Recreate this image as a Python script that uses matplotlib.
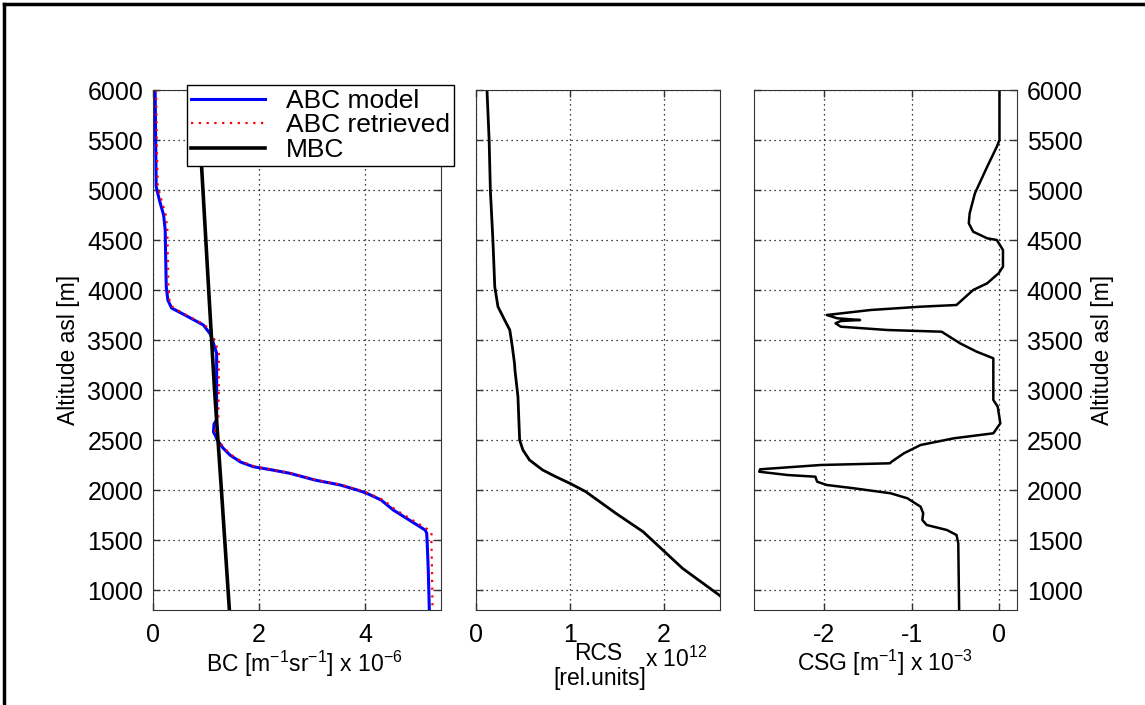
import numpy as np
import matplotlib
matplotlib.use("Agg")
import matplotlib.pyplot as plt
from matplotlib.lines import Line2D

plt.rcParams['font.family'] = ['Liberation Sans', 'DejaVu Sans']
plt.rcParams['mathtext.fontset'] = 'custom'
plt.rcParams['mathtext.rm'] = 'Liberation Sans'
plt.rcParams['axes.unicode_minus'] = False

# backscatter coefficient profile [x 1e-6 m^-1 sr^-1]
alt_bc = [6000, 5500, 5033, 4900, 4750, 4600, 4300, 4033, 3900, 3820, 3750, 3650,
          3560, 3450, 3367, 3000, 2700, 2660, 2580, 2540, 2500, 2420, 2350, 2280,
          2233, 2200, 2167, 2100, 2050, 2000, 1967, 1900, 1800, 1700, 1600, 1570,
          1467, 1200, 800]
bc_model = [0.04, 0.05, 0.06, 0.12, 0.20, 0.23, 0.24, 0.25, 0.28, 0.35, 0.60, 0.95,
            1.08, 1.15, 1.20, 1.20, 1.20, 1.15, 1.14, 1.18, 1.21, 1.32, 1.45, 1.65,
            1.89, 2.25, 2.58, 3.05, 3.53, 3.85, 4.03, 4.30, 4.53, 4.83, 5.13, 5.16,
            5.17, 5.19, 5.21]
bc_retr = [0.06, 0.07, 0.09, 0.16, 0.24, 0.27, 0.28, 0.29, 0.31, 0.38, 0.63, 0.98,
           1.12, 1.19, 1.24, 1.24, 1.23, 1.18, 1.17, 1.20, 1.23, 1.34, 1.48, 1.69,
           1.93, 2.29, 2.61, 3.08, 3.56, 3.89, 4.07, 4.34, 4.58, 4.89, 5.20, 5.25,
           5.25, 5.26, 5.27]

# molecular backscatter
alt_mbc = [6000, 5200, 4000, 3000, 2000, 800]
mbc = [0.83, 0.92, 1.05, 1.16, 1.29, 1.44]

# range corrected signal [x 1e12]
alt_rcs = [6000, 5500, 5000, 4500, 4033, 3833, 3700, 3600, 3433, 3267, 3200, 2933,
           2500, 2400, 2300, 2200, 2133, 2067, 1983, 1767, 1583, 1400, 1217, 950, 800]
rcs = [0.117, 0.14, 0.153, 0.18, 0.20, 0.234, 0.305, 0.36, 0.387, 0.41, 0.415, 0.447,
       0.465, 0.50, 0.57, 0.71, 0.85, 1.0, 1.17, 1.49, 1.78, 1.99, 2.2, 2.59, 2.78]

# range corrected signal gradient [x 1e-3 m^-1]
alt_csg = [6000, 5500, 5433, 5233, 4967, 4767, 4667, 4583, 4517, 4500, 4400, 4233,
           4167, 4067, 4000, 3850, 3833, 3800, 3750, 3717, 3700, 3690, 3667, 3633,
           3600, 3583, 3467, 3383, 3317, 2900, 2833, 2667, 2567, 2517, 2450, 2367,
           2283, 2267, 2250, 2207, 2183, 2150, 2133, 2083, 2050, 2017, 1967, 1917,
           1833, 1767, 1700, 1650, 1600, 1550, 1467, 800]
csg = [0.0, 0.0, -0.03, -0.14, -0.28, -0.34, -0.35, -0.30, -0.14, -0.03, 0.04, 0.04,
       -0.01, -0.14, -0.30, -0.49, -0.90, -1.47, -1.97, -1.85, -1.59, -1.81, -1.87, -1.81,
       -1.28, -0.66, -0.45, -0.26, -0.07, -0.07, -0.02, 0.01, -0.07, -0.52, -0.90, -1.09,
       -1.23, -1.25, -2.04, -2.73, -2.74, -2.42, -2.10, -2.08, -1.97, -1.66, -1.24, -1.05,
       -0.90, -0.87, -0.88, -0.83, -0.60, -0.49, -0.47, -0.46]

W, H = 1145, 705
fig = plt.figure(figsize=(W / 100, H / 100), dpi=100)


def box(l, r, t, b):
    return [l / W, (H - b) / H, (r - l) / W, (b - t) / H]


ax1 = fig.add_axes(box(153, 441, 90, 610))
ax2 = fig.add_axes(box(476, 720, 90, 610))
ax3 = fig.add_axes(box(754, 1017, 90, 610))

ax1.plot(bc_model, alt_bc, color='#0000ff', lw=2.2, label='ABC model')
ax1.plot(bc_retr, alt_bc, color='#ff0000', lw=1.6, ls=(0, (1, 2.5)), label='ABC retrieved')
ax1.plot(mbc, alt_mbc, color='black', lw=2.6, label='MBC')
ax2.plot(rcs, alt_rcs, color='black', lw=2)
ax3.plot(csg, alt_csg, color='black', lw=1.8)

ax1.set_xlim(0, 5.43)
ax2.set_xlim(0, 2.6)
ax3.set_xlim(-2.8, 0.2)
ax1.set_xticks([0, 2, 4])
ax2.set_xticks([0, 1, 2])
ax3.set_xticks([-2, -1, 0])

for ax in (ax1, ax2, ax3):
    ax.set_ylim(800, 6000)
    ax.set_yticks(np.arange(1000, 6001, 500))
    ax.grid(True, color='black', ls=(0, (1, 3)), lw=0.9)
    ax.tick_params(direction='in', length=5, width=1, top=True, right=True,
                   labelsize=18, color='#333333')
    ax.tick_params(axis='x', pad=9)
    for s in ax.spines.values():
        s.set_color('#333333')

ax1.tick_params(axis='y', pad=7)
ax2.tick_params(axis='y', labelleft=False)
ax3.tick_params(axis='y', labelleft=False, labelright=True, pad=7)

fig.text(68 / W, 1 - 350 / H, 'Altitude asl [m]', rotation=90, fontsize=16.5,
         ha='center', va='center')
fig.text(1102 / W, 1 - 350 / H, 'Altitude asl [m]', rotation=90, fontsize=16.5,
         ha='center', va='center')

fig.text(304 / W, 1 - 664 / H, r'BC [m$^{-1}$sr$^{-1}$] x 10$^{-6}$', fontsize=16.5,
         ha='center', va='center')
fig.text(598 / W, 1 - 654 / H, 'RCS', fontsize=16.5, ha='center', va='center')
fig.text(600 / W, 1 - 678 / H, '[rel.units]', fontsize=16.5, ha='center', va='center')
fig.text(645 / W, 1 - 659 / H, r'x 10$^{12}$', fontsize=16.5, ha='left', va='center')
fig.text(885 / W, 1 - 663 / H, r'CSG [m$^{-1}$] x 10$^{-3}$', fontsize=16.5,
         ha='center', va='center')

leg = fig.legend(loc='upper left', bbox_to_anchor=(187 / W, 1 - 85 / H),
                 fontsize=19, fancybox=False, framealpha=1, edgecolor='black',
                 borderaxespad=0, handlelength=2.8, handletextpad=0.8,
                 labelspacing=0.02, borderpad=0.15)
leg.get_frame().set_linewidth(1)

# outer frame (top and left edges only)
fig.add_artist(Line2D([4 / W, 4 / W], [0, 1 - 4 / H], color='black', lw=2.5,
                      transform=fig.transFigure))
fig.add_artist(Line2D([4 / W, 1], [1 - 4 / H, 1 - 4 / H], color='black', lw=2.5,
                      transform=fig.transFigure))

fig.savefig('out.png', dpi=100)
